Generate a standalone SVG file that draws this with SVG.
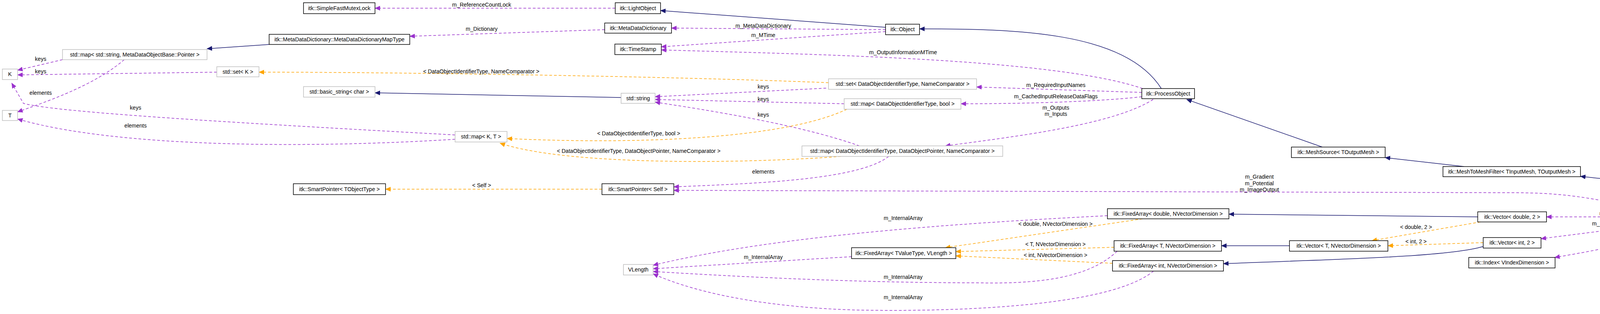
<svg xmlns="http://www.w3.org/2000/svg" width="4571" height="805" viewBox="0 0 4571 805">
<style>
text{font-family:"Liberation Sans",Arial,sans-serif;font-size:14px;fill:#000}
.n text{text-anchor:middle}
.b{fill:#fff;stroke:#000;stroke-width:1.5}
.g{fill:#fff;stroke:#bfbfbf;stroke-width:1.5}
.s{fill:#bfbfbf;stroke:#000;stroke-width:1.5}
.u{fill:none;stroke:#9a32cd;stroke-width:1.5;stroke-dasharray:7,5;marker-end:url(#mu)}
.t{fill:none;stroke:#ffa500;stroke-width:1.5;stroke-dasharray:7,5;marker-end:url(#mt)}
.i{fill:none;stroke:#191970;stroke-width:1.5;marker-end:url(#mi)}
.l{text-anchor:middle}
</style>
<defs>
<marker id="mu" markerUnits="userSpaceOnUse" markerWidth="14" markerHeight="12" refX="13" refY="6" orient="auto"><path d="M0,0L14,6L0,12z" fill="#9a32cd"/></marker>
<marker id="mt" markerUnits="userSpaceOnUse" markerWidth="14" markerHeight="12" refX="13" refY="6" orient="auto"><path d="M0,0L14,6L0,12z" fill="#ffa500"/></marker>
<marker id="mi" markerUnits="userSpaceOnUse" markerWidth="14" markerHeight="12" refX="13" refY="6" orient="auto"><path d="M0,0L14,6L0,12z" fill="#191970"/></marker>
</defs>
<g id="edges">
<path class="u" d="M1575,21L960,21"/>
<path class="i" d="M2267,70L1691,27"/>
<path class="u" d="M2267,76L1719,72"/>
<path class="u" d="M2267,81L1693,120"/>
<path class="u" d="M2925,227C2700,150 2100,140 1693,128"/>
<path class="u" d="M1548,76L1049,93"/>
<path class="i" d="M689,114L530,125"/>
<path class="u" d="M160,153L45,180"/>
<path class="u" d="M318,153C240,220 120,260 45,287"/>
<path class="u" d="M555,185L45,192"/>
<path class="t" d="M2121,212C1700,195 1000,185 663,185"/>
<path class="i" d="M1590,250L960,238"/>
<path class="u" d="M2115,226L1677,248"/>
<path class="u" d="M2161,266L1677,255"/>
<path class="u" d="M2200,374C2050,320 1800,280 1677,262"/>
<path class="u" d="M1165,346C700,320 150,290 60,265 L30,213"/>
<path class="u" d="M1165,357C800,380 300,380 45,305"/>
<path class="t" d="M2168,280C2000,360 1600,370 1298,355"/>
<path class="t" d="M2153,401C1900,420 1450,425 1280,367"/>
<path class="i" d="M2973,227C2880,80 2600,74 2354,74"/>
<path class="u" d="M2923,237L2500,223"/>
<path class="u" d="M2923,248C2800,262 2600,266 2460,266"/>
<path class="u" d="M2952,255C2850,320 2600,350 2420,374"/>
<path class="u" d="M2275,401C2200,460 1950,470 1725,479"/>
<path class="t" d="M1541,485L987,485"/>
<path class="u" d="M4220,543C4050,495 3950,494 3850,494L1725,488"/>
<path class="i" d="M3385,377L3038,255"/>
<path class="i" d="M3748,427L3546,404"/>
<path class="i" d="M4362,543C4300,470 4200,470 4046,452"/>
<path class="u" d="M4205,556L3959,556"/>
<path class="u" d="M4283,569L3945,612"/>
<path class="u" d="M4345,569C4250,610 4100,640 3980,660"/>
<path class="i" d="M3783,556L3146,549"/>
<path class="t" d="M3790,569L3512,617"/>
<path class="t" d="M3797,622L3553,630"/>
<path class="i" d="M3301,630L3127,630"/>
<path class="i" d="M3797,632C3700,660 3400,665 3132,676"/>
<path class="t" d="M2925,561L2420,635"/>
<path class="t" d="M2852,634L2447,645"/>
<path class="t" d="M2848,675L2447,656"/>
<path class="u" d="M2835,553C2500,570 2000,600 1672,680"/>
<path class="u" d="M2180,658L1672,689"/>
<path class="u" d="M2860,644C2800,700 2700,730 2500,725C2200,725 1900,710 1672,696"/>
<path class="u" d="M2953,695C2850,780 2500,800 2200,795C2000,790 1800,760 1672,702"/>
</g>
<g id="labels">
<text class="l" x="1233" y="17">m_ReferenceCountLock</text>
<text class="l" x="1233" y="79">m_Dictionary</text>
<text class="l" x="1954" y="71">m_MetaDataDictionary</text>
<text class="l" x="1954" y="95">m_MTime</text>
<text class="l" x="2312" y="139">m_OutputInformationMTime</text>
<text class="l" x="104" y="156">keys</text>
<text class="l" x="104" y="188">keys</text>
<text class="l" x="104" y="243">elements</text>
<text class="l" x="347" y="281">keys</text>
<text class="l" x="347" y="327">elements</text>
<text class="l" x="1232" y="188">&lt; DataObjectIdentifierType, NameComparator &gt;</text>
<text class="l" x="1954" y="227">keys</text>
<text class="l" x="1954" y="259">keys</text>
<text class="l" x="1954" y="299">keys</text>
<text class="l" x="1635" y="347">&lt; DataObjectIdentifierType, bool &gt;</text>
<text class="l" x="1635" y="392">&lt; DataObjectIdentifierType, DataObjectPointer, NameComparator &gt;</text>
<text class="l" x="2703" y="223">m_RequiredInputNames</text>
<text class="l" x="2703" y="252">m_CachedInputReleaseDataFlags</text>
<text class="l" x="2703" y="281">m_Outputs</text>
<text class="l" x="2703" y="297">m_Inputs</text>
<text class="l" x="1954" y="445">elements</text>
<text class="l" x="1233" y="480">&lt; Self &gt;</text>
<text class="l" x="3224" y="458">m_Gradient</text>
<text class="l" x="3224" y="475">m_Potential</text>
<text class="l" x="3224" y="491">m_ImageOutput</text>
<text class="l" x="2312" y="564">m_InternalArray</text>
<text class="l" x="2702" y="579">&lt; double, NVectorDimension &gt;</text>
<text class="l" x="2702" y="631">&lt; T, NVectorDimension &gt;</text>
<text class="l" x="2702" y="659">&lt; int, NVectorDimension &gt;</text>
<text class="l" x="1954" y="664">m_InternalArray</text>
<text class="l" x="2312" y="715">m_InternalArray</text>
<text class="l" x="2312" y="767">m_InternalArray</text>
<text class="l" x="4131" y="552">m_Stiffness</text>
<text class="l" x="4131" y="578">m_StepThreshold</text>
<text class="l" x="4131" y="612">m_Center</text>
<text class="l" x="3625" y="587">&lt; double, 2 &gt;</text>
<text class="l" x="3625" y="624">&lt; int, 2 &gt;</text>
</g>
<g id="n1" class="n"><rect class="b" x="777" y="7" width="183" height="28"/><text x="868.5" y="26">itk::SimpleFastMutexLock</text></g>
<g id="n2" class="n"><rect class="b" x="689" y="88" width="360" height="26"/><text x="869" y="106">itk::MetaDataDictionary::MetaDataDictionaryMapType</text></g>
<g id="n3" class="n"><rect class="g" x="160" y="127" width="370" height="26"/><text x="345" y="145">std::map&lt; std::string, MetaDataObjectBase::Pointer &gt;</text></g>
<g id="n4" class="n"><rect class="g" x="6" y="177" width="39" height="27"/><text x="25.5" y="195">K</text></g>
<g id="n5" class="n"><rect class="g" x="6" y="283" width="39" height="26"/><text x="25.5" y="301">T</text></g>
<g id="n6" class="n"><rect class="g" x="555" y="171" width="108" height="26"/><text x="609" y="189">std::set&lt; K &gt;</text></g>
<g id="n7" class="n"><rect class="g" x="777" y="222" width="183" height="27"/><text x="868.5" y="240">std::basic_string&lt; char &gt;</text></g>
<g id="n8" class="n"><rect class="b" x="1575" y="7" width="116" height="28"/><text x="1633" y="26">itk::LightObject</text></g>
<g id="n9" class="n"><rect class="b" x="1548" y="59" width="171" height="26"/><text x="1633.5" y="77">itk::MetaDataDictionary</text></g>
<g id="n10" class="n"><rect class="b" x="1574" y="113" width="119" height="27"/><text x="1633.5" y="131">itk::TimeStamp</text></g>
<g id="n11" class="n"><rect class="g" x="1590" y="239" width="87" height="26"/><text x="1633.5" y="257">std::string</text></g>
<g id="n12" class="n"><rect class="g" x="1165" y="337" width="133" height="27"/><text x="1231.5" y="355">std::map&lt; K, T &gt;</text></g>
<g id="n13" class="n"><rect class="g" x="2121" y="202" width="379" height="27"/><text x="2310.5" y="220">std::set&lt; DataObjectIdentifierType, NameComparator &gt;</text></g>
<g id="n14" class="n"><rect class="g" x="2161" y="253" width="299" height="27"/><text x="2310.5" y="271">std::map&lt; DataObjectIdentifierType, bool &gt;</text></g>
<g id="n15" class="n"><rect class="g" x="2053" y="374" width="514" height="27"/><text x="2310" y="392">std::map&lt; DataObjectIdentifierType, DataObjectPointer, NameComparator &gt;</text></g>
<g id="n16" class="n"><rect class="b" x="2267" y="62" width="87" height="27"/><text x="2310.5" y="80">itk::Object</text></g>
<g id="n17" class="n"><rect class="b" x="2923" y="227" width="135" height="26"/><text x="2990.5" y="245">itk::ProcessObject</text></g>
<g id="n18" class="n"><rect class="b" x="751" y="471" width="236" height="28"/><text x="869" y="490">itk::SmartPointer&lt; TObjectType &gt;</text></g>
<g id="n19" class="n"><rect class="b" x="1541" y="471" width="184" height="28"/><text x="1633" y="490">itk::SmartPointer&lt; Self &gt;</text></g>
<g id="n20" class="n"><rect class="g" x="1596" y="678" width="76" height="27"/><text x="1634" y="696">VLength</text></g>
<g id="n21" class="n"><rect class="b" x="2835" y="535" width="311" height="26"/><text x="2990.5" y="553">itk::FixedArray&lt; double, NVectorDimension &gt;</text></g>
<g id="n22" class="n"><rect class="b" x="2180" y="635" width="267" height="28"/><text x="2313.5" y="654">itk::FixedArray&lt; TValueType, VLength &gt;</text></g>
<g id="n23" class="n"><rect class="b" x="2852" y="617" width="275" height="27"/><text x="2989.5" y="635">itk::FixedArray&lt; T, NVectorDimension &gt;</text></g>
<g id="n24" class="n"><rect class="b" x="2848" y="668" width="284" height="27"/><text x="2990" y="686">itk::FixedArray&lt; int, NVectorDimension &gt;</text></g>
<g id="n25" class="n"><rect class="b" x="3306" y="377" width="240" height="27"/><text x="3426" y="395">itk::MeshSource&lt; TOutputMesh &gt;</text></g>
<g id="n26" class="n"><rect class="b" x="3694" y="427" width="352" height="26"/><text x="3870" y="445">itk::MeshToMeshFilter&lt; TInputMesh, TOutputMesh &gt;</text></g>
<g id="n27" class="n"><rect class="s" x="4214" y="543" width="354" height="26"/><text x="4391" y="561">itk::BalloonForceFilter&lt; TInputMesh, TOutputMesh &gt;</text></g>
<g id="n28" class="n"><rect class="b" x="3783" y="543" width="176" height="26"/><text x="3871" y="561">itk::Vector&lt; double, 2 &gt;</text></g>
<g id="n29" class="n"><rect class="b" x="3301" y="617" width="252" height="27"/><text x="3427" y="635">itk::Vector&lt; T, NVectorDimension &gt;</text></g>
<g id="n30" class="n"><rect class="b" x="3797" y="609" width="148" height="27"/><text x="3871" y="627">itk::Vector&lt; int, 2 &gt;</text></g>
<g id="n31" class="n"><rect class="b" x="3760" y="660" width="221" height="27"/><text x="3870.5" y="678">itk::Index&lt; VIndexDimension &gt;</text></g>
</svg>
